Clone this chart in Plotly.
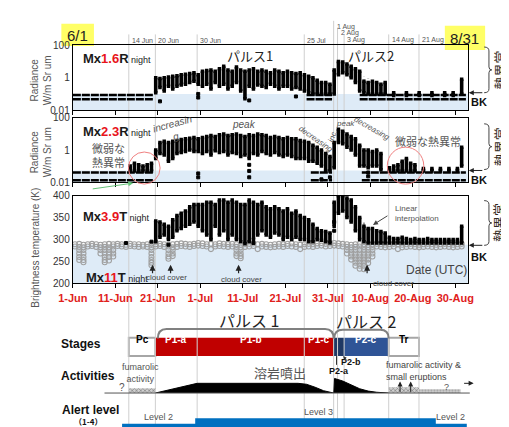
import plotly.graph_objects as go
import pandas as pd
import math

W, H = 509, 427
FONT = "Liberation Sans, Noto Sans CJK JP, sans-serif"
JP = "Noto Sans CJK JP, sans-serif"

# ------------------------------------------------------------------ data
days = pd.date_range("2020-06-01 12:00", periods=92, freq="D")   # Jun 1 .. Aug 31

# Mx1.6R night radiance (daily low / high of the point cloud)
r16_hi = ([None] * 19 +
          [1.0, 0.9, 1.0, 1.1, 1.2, 1.3, 1.5, 1.6, 1.8, 2.0, 1.5,
           2.5, 2.8, 3.0, 2.5, 3.5, 5.0, 3.0, 2.5, 4.5, 3.0,
           2.5, 3.0, 3.5, 2.5, 3.0, 2.5, 2.0, 3.0, 2.5, 2.0,
           2.5, 2.0, 1.8, 2.0, 1.5, 1.2, 1.0, 0.7, 0.5, 0.5, 0.4,
           3.0, 10, 9, 7, 5, 3.5, 2.5, 0.6, 0.5, 0.6,
           0.5, 0.4, 0.5, None, 0.12, None, None, 0.12, None, None,
           0.12, None, None, 0.12, None, None, 0.12, None, 0.12, None, 0.8])
r16_lo = ([None] * 19 +
          [0.12, 0.25, 0.15, 0.3, 0.2, 0.3, 0.35, 0.4, 0.5, 0.6, 0.4,
           0.3, 0.4, 0.2, 0.5, 0.3, 0.4, 0.2, 0.3, 0.5, 0.15,
           0.05, 0.3, 0.2, 0.35, 0.3, 0.25, 0.4, 0.3, 0.2, 0.3,
           0.3, 0.2, 0.25, 0.2, 0.15, 0.12, 0.1, 0.1, 0.1, 0.1, 0.1,
           0.1, 1.5, 2.0, 1.5, 1.0, 0.5, 0.15, 0.12, 0.1, 0.1,
           0.1, 0.1, 0.1, None, 0.08, None, None, 0.08, None, None,
           0.08, None, None, 0.08, None, None, 0.08, None, 0.08, None, 0.1])
r16_out_x = ["2020-06-21 12:00", "2020-06-30 12:00", "2020-06-30 12:00", "2020-07-12 12:00", "2020-07-23 12:00"]
r16_out_y = [0.035, 0.1, 0.06, 0.04, 0.07]
r16_bk_levels = [0.085, 0.048]
r16_bk_spans = [("2020-06-01", "2020-06-20"), ("2020-07-26", "2020-08-01"), ("2020-08-07 12:00", "2020-09-01 12:00")]
r16_int_x = ["2020-08-07 12:00", "2020-08-08 12:00", "2020-08-09 12:00", "2020-08-10 12:00", "2020-08-11 12:00"]
r16_int_hi = [1.6, 1.2, 0.9, 0.6, 0.4]
r16_int_lo = [0.7, 0.5, 0.35, 0.25, 0.2]
r16_bk_top = 0.1

# Mx2.3R night radiance
r23_hi = ([None] * 13 +
          [0.1, 0.15, 0.12, 0.1, 0.12, 0.15,
           1.0, 3.0, 3.5, 3.0, 3.5, 4.0, 4.5, 5.0, 5.5, 6.0, 5.0,
           6, 7, 8, 7, 9, 10, 8, 9, 10, 8,
           7, 9, 8, 10, 9, 8, 6, 7, 6, 5,
           6, 5, 5, 4, 3.5, 3, 2, 1.5, 1.0, 0.6, 0.4,
           3, 20, 15, 10, 7, 5, 2, 1.0, 1.0, 0.8,
           1.0, 0.6, None, 0.08, 0.1, 0.12, 0.2, 0.3, 0.15, 0.12,
           None, 0.07, None, 0.07, None, 0.07, None, 0.07, None, 0.07, 1.5])
r23_lo = ([None] * 13 +
          [0.05, 0.05, 0.05, 0.05, 0.05, 0.05,
           0.3, 0.6, 0.5, 0.2, 0.3, 0.6, 0.7, 0.8, 1.0, 0.8, 0.8,
           0.6, 0.8, 0.5, 0.9, 0.7, 0.8, 0.5, 0.7, 0.6, 0.4,
           0.5, 0.3, 0.6, 0.5, 0.8, 0.6, 0.5, 0.7, 0.5, 0.4,
           0.5, 0.4, 0.3, 0.3, 0.3, 0.2, 0.2, 0.15, 0.1, 0.05, 0.05,
           0.08, 3, 2.5, 1.5, 1.0, 0.5, 0.1, 0.1, 0.08, 0.1,
           0.1, 0.06, None, 0.05, 0.05, 0.05, 0.05, 0.05, 0.05, 0.05,
           None, 0.05, None, 0.05, None, 0.05, None, 0.05, None, 0.05, 0.1])
r23_out_x = ["2020-06-30 12:00", "2020-06-30 12:00", "2020-07-12 12:00", "2020-07-12 12:00",
             "2020-07-12 12:00", "2020-07-29 12:00", "2020-07-31 12:00", "2020-08-09 12:00", "2020-08-09 12:00"]
r23_out_y = [0.035, 0.02, 0.12, 0.05, 0.02, 0.015, 0.02, 0.04, 0.023]
r23_bk_levels = [0.04, 0.013]
r23_bk_spans = [("2020-06-01", "2020-06-20"), ("2020-07-27", "2020-08-01"), ("2020-08-08", "2020-09-01 12:00")]
r23_int_x = ["2020-08-07 12:00", "2020-08-08 12:00", "2020-08-09 12:00", "2020-08-10 12:00"]
r23_int_hi = [2.0, 1.5, 1.0, 0.7]
r23_int_lo = [0.9, 0.7, 0.5, 0.4]
r23_bk_top = 0.053

# Mx3.9T night brightness temperature (K)
t39_hi = ([None] * 19 +
          [342, 340, 335, 330, 345, 355, 360, 365, 375, 380, 380,
           380, 385, 385, 380, 390, 390, 385, 390, 385, 380,
           380, 390, 385, 380, 385, 375, 370, 375, 370, 365,
           370, 360, 365, 355, 350, 345, 335, 325, 320, 318, 315,
           385, 400, 400, 395, 390, 375, 350, 330, 325, 325,
           320, 318, 315, 305, 302, 302, 305, 302, 300, 302,
           300, 300, 302, 300, 300, 300, 300, 300, 300, 300, 330])
t39_lo = ([None] * 19 +
          [295, 305, 310, 300, 305, 320, 325, 330, 335, 340, 330,
           320, 310, 300, 330, 310, 320, 300, 310, 300, 295,
           290, 295, 300, 310, 320, 310, 305, 315, 310, 300,
           305, 300, 305, 300, 300, 295, 295, 300, 298, 295, 292,
           330, 360, 365, 350, 340, 320, 300, 295, 292, 292,
           292, 292, 292, 292, 292, 292, 292, 292, 292, 292,
           292, 292, 292, 292, 292, 292, 292, 292, 292, 292, 292])
t39_out_x = ["2020-06-13 12:00", "2020-06-19 12:00", "2020-06-23 12:00", "2020-07-13 12:00", "2020-08-01 12:00", "2020-08-01 12:00"]
t39_out_y = [292, 295, 288, 292, 320, 340]
t39_int_x = ["2020-08-04 12:00", "2020-08-05 12:00", "2020-08-06 12:00", "2020-08-07 12:00",
             "2020-08-08 12:00", "2020-08-09 12:00", "2020-08-10 12:00"]
t39_int_hi = [385, 375, 365, 352, 340, 328, 318]
t39_int_lo = [365, 355, 342, 330, 318, 308, 300]

# Mx11T night brightness temperature (K)
t11_hi = [289, 290, 288, 289, 290, 289, 288, 289, 290, 289,
          290, 289, 288, 290, 289, 289, 288, 289, 290, 289,
          290, 289, 288, 289, 290, 291, 290, 289, 290, 292,
          291, 289, 290, 289, 291, 290, 289, 290, 289, 288,
          289, 290, 291, 289, 290, 289, 288, 289, 290, 289,
          290, 291, 289, 288, 289, 290, 289, 291, 292, 290,
          291, 292, 291, 290, 289, 288, 289, 290, 289, 288,
          289, 290, 289, 288, 289, 290, 289, 288, 289, 290,
          289, 288, 289, 290, 289, 288, 289, 290, 289, 288, 289, 290]
t11_lo = [284, 283, 282, 284, 285, 283, 282, 283, 282, 284,
          285, 284, 283, 285, 284, 283, 284, 283, 282, 284,
          285, 283, 284, 282, 283, 285, 284, 283, 285, 286,
          285, 284, 278, 284, 285, 284, 283, 284, 283, 282,
          283, 284, 285, 278, 284, 283, 282, 283, 284, 283,
          285, 284, 283, 278, 283, 284, 283, 285, 286, 284,
          285, 286, 285, 284, 283, 282, 283, 284, 283, 282,
          283, 284, 283, 282, 283, 284, 278, 282, 283, 284,
          283, 282, 283, 284, 283, 282, 283, 284, 283, 282, 283, 284]
t11_cloud = {
    "2020-06-02 12:00": [276, 268, 260, 253],
    "2020-06-03 12:00": [276, 268, 260, 253, 248],
    "2020-06-07 12:00": [276, 268],
    "2020-06-08 12:00": [276, 268, 260, 253, 248],
    "2020-06-09 12:00": [276, 268, 260, 252],
    "2020-06-10 12:00": [276, 268, 261],
    "2020-06-19 12:00": [276, 268, 260, 253, 247, 241],
    "2020-06-23 12:00": [276, 268, 261, 256],
    "2020-06-24 12:00": [276, 268, 262],
    "2020-07-09 12:00": [276, 268, 262],
    "2020-07-10 12:00": [276, 268, 262, 257],
    "2020-08-04 12:00": [276, 268],
    "2020-08-05 12:00": [276, 268, 261, 254],
    "2020-08-06 12:00": [276, 268, 261, 254, 247, 240],
    "2020-08-07 12:00": [276, 268, 261, 254, 247, 240, 233],
    "2020-08-08 12:00": [276, 268, 261, 254, 247, 240, 232],
    "2020-08-09 12:00": [276, 268, 261, 254, 246],
    "2020-08-10 12:00": [276, 268, 261],
}
t11_bk_top = 288
cloud_dates = ["2020-06-19 18:00", "2020-06-24 00:00", "2020-07-10 00:00", "2020-08-09 06:00"]

# x tick labels
tick_dates = ["2020-06-01", "2020-06-11", "2020-06-21", "2020-07-01", "2020-07-11",
              "2020-07-21", "2020-07-31", "2020-08-10", "2020-08-20", "2020-08-30"]
tick_text = ["1-Jun", "11-Jun", "21-Jun", "1-Jul", "11-Jul", "21-Jul", "31-Jul", "10-Aug", "20-Aug", "30-Aug"]

# key dates / stages
event_dates = ["2020-06-14 04:00", "2020-06-20 10:00", "2020-06-30 06:00", "2020-07-25 11:00",
               "2020-08-01 09:00", "2020-08-02 07:00", "2020-08-03 20:00", "2020-08-14 08:00", "2020-08-21 11:00"]
event_labels = ["14 Jun", "20 Jun", "30 Jun", "25 Jul", "1 Aug", "2 Aug", "3 Aug", "14 Aug", "21 Aug"]
event_label_y = [27, 27, 27, 27, 13, 20, 27, 27, 27]
stage_names = ["Pc", "P1-a", "P1-b", "P1-c", "P2-a", "P2-b", "P2-c", "Tr"]
stage_fill = ["white", "#c00000", "#c00000", "#c00000", "#1f3864", "#1f3864", "#2f5496", "white"]
stage_text = ["black", "white", "white", "white", None, None, "white", "black"]

# activity profiles (relative level 0..1)
act1_x = ["2020-06-20 10:00", "2020-06-30 06:00", "2020-07-24 00:00", "2020-07-26 00:00",
          "2020-07-28 00:00", "2020-07-30 00:00", "2020-08-01 09:00"]
act1_y = [0, 0.5, 0.5, 0.45, 0.3, 0.12, 0]
act2_x = ["2020-08-01 10:00", "2020-08-01 14:00", "2020-08-03 12:00", "2020-08-05 12:00",
          "2020-08-07 12:00", "2020-08-09 12:00", "2020-08-11 12:00", "2020-08-14 08:00"]
act2_y = [0, 0.75, 0.62, 0.4, 0.22, 0.1, 0.04, 0]
fum1_x = ["2020-06-14 04:00", "2020-06-20 10:00"]
fum1_y = [0.25, 0.25]
fum2_x = ["2020-08-14 08:00", "2020-08-21 11:00"]
fum2_y = [0.3, 0.3]
fum3_x = ["2020-08-21 11:00", "2020-08-31 06:00"]
fum3_y = [0.2, 0.2]
eruption_dates = ["2020-08-17 00:00", "2020-08-19 12:00"]

# alert level
alert_x = ["2020-06-12 14:00", "2020-06-29 19:00", "2020-08-25 10:00", "2020-09-01 17:00"]
alert_y = [2, 3, 2, 2]

# ------------------------------------------------------------------ helpers
def PX(x): return x / W
def PY(y): return 1 - y / H

X0, X1 = 52, 464
XRANGE = ["2020-06-01 00:00", "2020-09-01 23:00"]
t0, t1 = pd.Timestamp(XRANGE[0]), pd.Timestamp(XRANGE[1])
def DX(d):  # date -> paper x (decorations only)
    return PX(X0) + (pd.Timestamp(d) - t0) / (t1 - t0) * (PX(X1) - PX(X0))

def cols(xs, lo, hi):
    X, Y = [], []
    for x, a, b in zip(xs, lo, hi):
        if a is None or b is None:
            continue
        X += [x, x, None]
        Y += [a, b, None]
    return X, Y

def spans(sp, levels):
    X, Y = [], []
    for lv in levels:
        for a, b in sp:
            X += [a, b, None]
            Y += [lv, lv, None]
    return X, Y

fig = go.Figure()

def add_cols(xs, lo, hi, xa, ya, color="black", width=3.6, dash=None, markers=True):
    X, Y = cols(xs, lo, hi)
    fig.add_trace(go.Scatter(x=X, y=Y, xaxis=xa, yaxis=ya, mode="lines+markers" if markers else "lines",
                             line=dict(color=color, width=width, dash=dash),
                             marker=dict(symbol="square", size=3.5, color=color),
                             hoverinfo="skip", showlegend=False))

def add_pts(xs, ys, xa, ya, color="black", size=3, symbol="square"):
    fig.add_trace(go.Scatter(x=xs, y=ys, xaxis=xa, yaxis=ya, mode="markers",
                             marker=dict(symbol=symbol, size=size, color=color,
                                         line=dict(color=color, width=1)),
                             hoverinfo="skip", showlegend=False))

def add_bk(sp, levels, xa, ya):
    X, Y = spans(sp, levels)
    fig.add_trace(go.Scatter(x=X, y=Y, xaxis=xa, yaxis=ya, mode="lines",
                             line=dict(color="black", width=2.5, dash="8px,1px"),
                             hoverinfo="skip", showlegend=False))

# panel 1
add_bk(r16_bk_spans, r16_bk_levels, "x", "y")
add_cols(r16_int_x, r16_int_lo, r16_int_hi, "x", "y", color="#9a9a9a", width=2, dash="dot", markers=False)
add_cols(list(days), r16_lo, r16_hi, "x", "y")
add_pts(r16_out_x, r16_out_y, "x", "y")
# panel 2
add_bk(r23_bk_spans, r23_bk_levels, "x2", "y2")
add_cols(r23_int_x, r23_int_lo, r23_int_hi, "x2", "y2", color="#9a9a9a", width=2, dash="dot", markers=False)
add_cols(list(days), r23_lo, r23_hi, "x2", "y2")
add_pts(r23_out_x, r23_out_y, "x2", "y2")
# panel 3
cx, cy = [], []
for d, vals in t11_cloud.items():
    for v in vals:
        cx.append(d); cy.append(v)
fig.add_trace(go.Scatter(x=list(days) + list(days) + cx, y=t11_hi + t11_lo + cy, xaxis="x3", yaxis="y3",
                         mode="markers", marker=dict(symbol="circle-open", size=5, color="#a0a0a0",
                                                     line=dict(width=1.1)),
                         hoverinfo="skip", showlegend=False))
add_cols(t39_int_x, t39_int_lo, t39_int_hi, "x3", "y3", color="#9a9a9a", width=2, dash="dot", markers=False)
add_cols(list(days), t39_lo, t39_hi, "x3", "y3")
add_pts(t39_out_x, t39_out_y, "x3", "y3")

# activities (x4/y4)
for xs, ys in [(act1_x, act1_y), (act2_x, act2_y)]:
    fig.add_trace(go.Scatter(x=xs, y=ys, xaxis="x4", yaxis="y4", mode="lines", fill="tozeroy",
                             fillcolor="black", line=dict(color="black", width=1),
                             hoverinfo="skip", showlegend=False))
for xs, ys, shp, fg in [(fum1_x, fum1_y, "x", "#333"), (fum2_x, fum2_y, "x", "#333"), (fum3_x, fum3_y, ".", "#666")]:
    fig.add_trace(go.Scatter(x=xs, y=ys, xaxis="x4", yaxis="y4", mode="lines", fill="tozeroy",
                             fillcolor="#bbbbbb", line=dict(width=0),
                             fillpattern=dict(shape=shp, fgcolor=fg, bgcolor="#d0d0d0", size=3, solidity=0.4),
                             hoverinfo="skip", showlegend=False))
# alert level (x5/y5)
fig.add_trace(go.Scatter(x=alert_x, y=alert_y, xaxis="x5", yaxis="y5", mode="lines", line_shape="hv",
                         fill="tozeroy", fillcolor="#0070c0", line=dict(color="#0070c0", width=0),
                         hoverinfo="skip", showlegend=False))

# ------------------------------------------------------------------ axes
XD = [PX(X0), PX(X1)]
xcommon = dict(type="date", range=XRANGE, domain=XD, showgrid=False, zeroline=False,
               showline=True, linecolor="black", linewidth=1.3, mirror=True,
               ticks="outside", ticklen=4, tickcolor="black", tickvals=tick_dates)
ycommon = dict(showgrid=False, zeroline=False, showline=True, linecolor="black", linewidth=1.3,
               mirror=True, ticks="", tickfont=dict(size=10, color="#333", family=FONT))
fig.update_layout(
    xaxis=dict(**xcommon, anchor="y", showticklabels=False),
    xaxis2=dict(**xcommon, anchor="y2", showticklabels=False, matches="x"),
    xaxis3=dict(**xcommon, anchor="y3", matches="x", ticktext=["<b>%s</b>" % t for t in tick_text],
                tickfont=dict(size=11, color="#e0211b", family=FONT)),
    xaxis4=dict(type="date", range=XRANGE, domain=XD, anchor="y4", visible=False, matches="x"),
    xaxis5=dict(type="date", range=XRANGE, domain=XD, anchor="y5", visible=False, matches="x"),
    yaxis=dict(**ycommon, domain=[PY(99), PY(32)], type="log", range=[-2, 2], anchor="x",
               tickvals=[0.01, 1, 100], ticktext=["0.01", "1", "100"]),
    yaxis2=dict(**ycommon, domain=[PY(173), PY(107)], type="log", range=[-2, 2], anchor="x2",
                tickvals=[0.01, 1, 100], ticktext=["0.01", "1", "100"]),
    yaxis3=dict(**ycommon, domain=[PY(277), PY(187)], range=[200, 400], anchor="x3",
                tickvals=[200, 250, 300, 350, 400]),
    yaxis4=dict(domain=[PY(390), PY(370)], range=[0, 1], anchor="x4", visible=False),
    yaxis5=dict(domain=[0, PY(405)], range=[1, 5], anchor="x5", visible=False),
)

# ------------------------------------------------------------------ shapes
shapes = []
def rect_px(x0, y0, x1, y1, fill, line=None, lw=0, layer="below"):
    shapes.append(dict(type="rect", xref="paper", yref="paper", x0=PX(x0), x1=PX(x1), y0=PY(y0), y1=PY(y1),
                       fillcolor=fill, line=dict(color=line or fill, width=lw), layer=layer))

# yellow boxes
rect_px(40, 10, 74, 33, "#ffff66")
rect_px(440, 12, 482, 37, "#ffff66")

# light blue background bands
for ya, frac in [("y", (math.log10(r16_bk_top) + 2) / 4), ("y2", (math.log10(r23_bk_top) + 2) / 4),
                 ("y3", (t11_bk_top - 200) / 200)]:
    xa = {"y": "x", "y2": "x2", "y3": "x3"}[ya]
    shapes.append(dict(type="rect", xref=xa + " domain", yref=ya + " domain", x0=0, x1=1, y0=0, y1=frac,
                       fillcolor="#deebf7", line=dict(width=0), layer="below"))

# stage boxes
for i, nm in enumerate(stage_names):
    white = stage_fill[i] == "white"
    shapes.append(dict(type="rect", xref="x3", yref="paper", x0=event_dates[i], x1=event_dates[i + 1],
                       y0=PY(352), y1=PY(333), fillcolor=stage_fill[i],
                       line=dict(color="#a6a6a6" if white else stage_fill[i], width=2 if white else 0),
                       layer="below"))

# vertical event lines
for d, ly in zip(event_dates, event_label_y):
    shapes.append(dict(type="line", xref="x3", yref="paper", x0=d, x1=d, y0=0, y1=PY(ly - 6),
                       line=dict(color="#cfcfcf", width=1), layer="below"))

# baseline of activities
shapes.append(dict(type="line", xref="paper", yref="paper", x0=PX(85), x1=PX(466), y0=PY(390), y1=PY(390),
                   line=dict(color="#555", width=1)))

# pulse brackets
def bracket(d0, d1, yt, yb, r=9):
    x0, x1 = DX(d0), DX(d1)
    rx = r / W
    return ("M %f,%f Q %f,%f %f,%f L %f,%f Q %f,%f %f,%f" %
            (x0, PY(yb), x0, PY(yt), x0 + rx, PY(yt), x1 - rx, PY(yt), x1, PY(yt), x1, PY(yb)))
shapes.append(dict(type="path", xref="paper", yref="paper", path=bracket("2020-06-21 00:00", event_dates[4], 324, 334),
                   line=dict(color="#808080", width=2)))
shapes.append(dict(type="path", xref="paper", yref="paper", path=bracket("2020-08-01 12:00", event_dates[7], 325, 334),
                   line=dict(color="#808080", width=2)))

# P2-a tick
shapes.append(dict(type="line", xref="paper", yref="paper", x0=PX(327), x1=PX(327), y0=PY(352), y1=PY(361),
                   line=dict(color="#333", width=1)))

# right-hand braces
def brace(x, yt, yb):
    xm = x + 5
    ym = (yt + yb) / 2
    pts = ("M %f,%f Q %f,%f %f,%f L %f,%f Q %f,%f %f,%f Q %f,%f %f,%f L %f,%f Q %f,%f %f,%f" %
           (PX(x), PY(yt), PX(xm), PY(yt), PX(xm), PY(yt + 4),
            PX(xm), PY(ym - 3), PX(xm), PY(ym), PX(xm + 3), PY(ym),
            PX(xm), PY(ym), PX(xm), PY(ym + 3),
            PX(xm), PY(yb - 4), PX(xm), PY(yb), PX(x), PY(yb)))
    return dict(type="path", xref="paper", yref="paper", path=pts, line=dict(color="#444", width=1))
shapes.append(brace(481, 34, 81))
shapes.append(brace(481, 113, 160))
shapes.append(brace(481, 192, 238))

# weak-anomaly circles
shapes.append(dict(type="circle", xref="paper", yref="paper", x0=PX(110), x1=PX(143), y0=PY(175), y1=PY(142),
                   line=dict(color="#f08080", width=1)))
shapes.append(dict(type="circle", xref="paper", yref="paper", x0=PX(380), x1=PX(418), y0=PY(175), y1=PY(137),
                   line=dict(color="#f08080", width=1)))

fig.update_layout(shapes=shapes)

# ------------------------------------------------------------------ annotations
ann = []
def T(x, y, text, size=10, color="#333", family=FONT, xanchor="center", **kw):
    ann.append(dict(x=PX(x), y=PY(y), xref="paper", yref="paper", text=text, showarrow=False,
                    font=dict(size=size, color=color, family=family), xanchor=xanchor, yanchor="middle", **kw))

def A(xt, yt, xs, ys, color="#222", width=1, head=2, size=1):
    ann.append(dict(x=PX(xt), y=PY(yt), xref="paper", yref="paper", ax=xs - xt, ay=ys - yt,
                    axref="pixel", ayref="pixel", text="", showarrow=True, arrowhead=head,
                    arrowsize=size, arrowwidth=width, arrowcolor=color))

T(57, 22, "6/1", 15, "#222")
T(461, 25, "8/31", 15, "#222")

def mxlabel(num, unit):
    return ("<b>Mx<span style='color:#e8141b'>%s</span>%s</b><span style='font-size:9px'> night</span>"
            % (num, unit))
T(60, 46, mxlabel("1.6", "R"), 13, "#1a1a1a", xanchor="left")
T(60, 121, mxlabel("2.3", "R"), 13, "#1a1a1a", xanchor="left")
T(60, 208, mxlabel("3.9", "T"), 13, "#1a1a1a", xanchor="left")
T(64, 271, mxlabel("11", "T"), 13, "#1a1a1a", xanchor="left")

T(237, 43, "パルス1", 13, "#222", JP)
T(363, 43, "パルス2", 13, "#222", JP)

# axis titles
T(19, 68, "Radiance<br>W/m Sr um", 10, "#555", textangle=-90)
T(19, 142, "Radiance<br>W/m Sr um", 10, "#555", textangle=-90)
T(13, 240, "Brightness temperature (K)", 10, "#555", textangle=-90)

# panel-2 notes
T(158, 119, "<i>increasin<br>g</i>", 10, "#555", textangle=-15)
T(230, 114, "<i>peak</i>", 10, "#555")
T(306, 129, "<i>decreasing</i>", 8, "#555", textangle=35)
T(323, 126, "<i>inc.</i>", 8, "#555", textangle=-70)
T(336, 113, "<i>peak</i>", 8, "#555")
T(364, 118, "<i>decreasing</i>", 8, "#555", textangle=30)
T(89, 145, "微弱な<br>熱異常", 11, "#555", JP)
T(422, 131, "微弱な熱異常", 11, "#555", JP)
A(115, 174, 73, 180, color="#66c27a", width=1, head=2)

# panel-3 notes
T(386, 205, "Linear<br>interpolation", 8, "#555", xanchor="left", align="left")
A(365, 217, 381, 207, color="#444")
T(431, 263, "Date (UTC)", 12, "#444")
for d in cloud_dates:
    ann.append(dict(x=d, y=PY(258), xref="x3", yref="paper", ax=0, ay=10, axref="pixel", ayref="pixel",
                    text="", showarrow=True, arrowhead=2, arrowsize=1, arrowwidth=1.2, arrowcolor="#222"))
T(150, 271, "cloud cover", 8, "#444")
T(228, 273, "cloud cover", 8, "#444")
T(386, 277, "cloud cover", 8, "#444")

# right side: thermal-anomaly brackets and BK markers
for yc, ya, yb in [(58, 81, 91), (137, 161, 171), (215, 238, 250)]:
    ann.append(dict(x=PX(496.5), y=PY(yc), xref="paper", yref="paper", text="熱異常", showarrow=False,
                    textangle=-90, font=dict(size=13, color="#332a20", family=JP),
                    xanchor="center", yanchor="middle"))
    A(465, ya, 480, ya, color="#222")
    T(476, yb, "<b>BK</b>", 11, "#111")

# event labels
for d, lab, ly in zip(event_dates, event_labels, event_label_y):
    ann.append(dict(x=d, y=PY(ly), xref="x3", yref="paper", text=lab, showarrow=False, xanchor="left",
                    xshift=1, yanchor="middle", font=dict(size=7, color="#555", family=FONT)))

# bottom section
T(236, 315, "パルス 1", 16, "#222", JP)
T(358, 316, "パルス 2", 16, "#222", JP)
T(61, 340, "<b>Stages</b>", 12, "#111")
T(68, 372, "<b>Activities</b>", 12, "#111")
T(70, 407, "<b>Alert level</b>", 12, "#111")
T(68, 419, "<b>（1-4）</b>", 8, "#111", JP)
for i, nm in enumerate(stage_names):
    if stage_text[i] is None:
        continue
    mid = pd.Timestamp(event_dates[i]) + (pd.Timestamp(event_dates[i + 1]) - pd.Timestamp(event_dates[i])) / 2
    ann.append(dict(x=mid, y=PY(342.5), xref="x3", yref="paper", text="<b>%s</b>" % nm, showarrow=False,
                    font=dict(size=10, color=stage_text[i], family=FONT)))
T(342, 358, "<b>P2-b</b>", 9, "#111")
T(330, 367, "<b>P2-a</b>", 9, "#111")
A(334, 352, 338, 357, color="#333", width=1, head=2, size=0.7)

T(123, 369, "fumarolic<br>activity", 9, "#555")
T(103, 384, "?", 10, "#555")
T(268, 369, "溶岩噴出", 13, "#555", JP)
T(377, 367, "fumarolic activity &amp;<br>small eruptions", 9, "#444", xanchor="left", align="left")
for d in eruption_dates:
    ann.append(dict(x=d, y=PY(378), xref="x3", yref="paper", ax=0, ay=12, axref="pixel", ayref="pixel",
                    text="", showarrow=True, arrowhead=2, arrowsize=1, arrowwidth=1, arrowcolor="#222"))
T(442, 384, "?", 9, "#555")
A(470, 380, 459, 380, color="#222")

T(141, 415, "Level 2", 9, "#555")
T(308, 409, "Level 3", 9, "#555")
T(446, 415, "Level 2", 9, "#555")

fig.update_layout(annotations=ann)

fig.update_layout(width=W, height=H, margin=dict(l=0, r=0, t=0, b=0), autosize=False,
                  paper_bgcolor="white", plot_bgcolor="rgba(0,0,0,0)", showlegend=False,
                  font=dict(family=FONT))
fig.write_html("out.html")
